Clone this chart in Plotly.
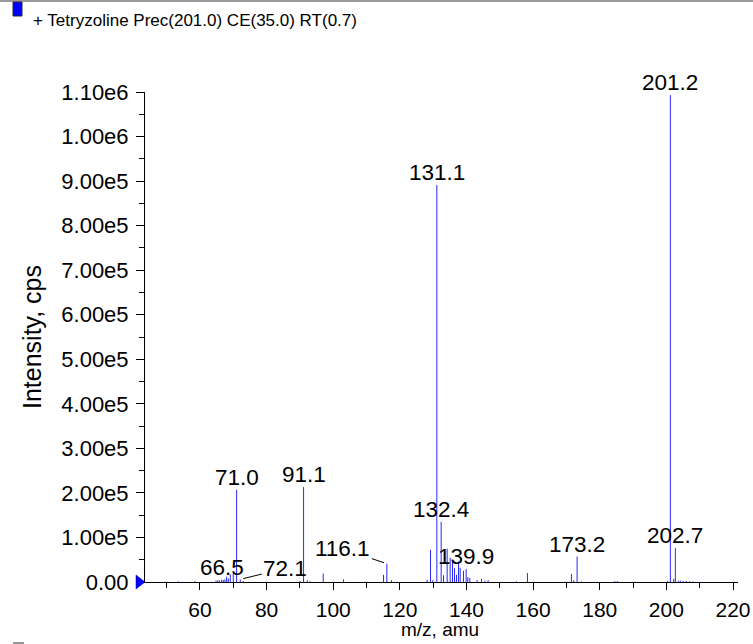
import plotly.graph_objects as go

# ---- data ----
mz = [53.5, 58.5, 64.8, 65.3, 65.8, 66.5, 67.0, 67.5, 68.0, 68.5, 69.1, 70.0, 71.0, 72.1, 73.0,
      90.0, 91.1, 92.2, 93.0, 97.0, 103.1, 115.1, 116.1, 117.5,
      128.2, 129.2, 129.9, 131.1, 132.4, 133.1, 134.2, 135.1, 135.8, 136.4, 137.0, 137.6, 138.1,
      139.1, 139.9, 140.4, 141.0, 143.2, 144.5, 145.5, 146.5, 155.0, 158.3,
      171.5, 172.2, 173.2, 174.5, 184.5, 185.3,
      200.4, 201.2, 202.2, 202.7, 203.6, 204.2, 205.0, 206.0, 207.0, 208.0]
intensity = [1500, 1500, 3000, 3500, 4000, 5000, 4500, 6000, 12000, 8000, 17000, 20000, 207000, 6000, 2000,
             2500, 213000, 4000, 1500, 19000, 6000, 16000, 41000, 4000,
             5000, 72000, 4000, 891000, 135000, 15000, 75000, 55000, 45000, 31000, 16000, 46000, 32000,
             25000, 29000, 11000, 9000, 4000, 7000, 3000, 4000, 1500, 20000,
             18000, 4000, 57000, 1500, 2000, 2000,
             2500, 1093000, 7000, 76000, 3000, 3000, 2500, 2500, 2000, 1500]

label_mz = [201.2, 131.1, 71.0, 91.1, 132.4, 139.9, 173.2, 202.7, 66.5]
label_txt = ["201.2", "131.1", "71.0", "91.1", "132.4", "139.9", "173.2", "202.7", "66.5"]
leader_mz = [116.1, 72.1]
leader_txt = ["116.1", "72.1"]
leader_off = [(-44, -15), (45, -11)]

y_ticks = [0, 1e5, 2e5, 3e5, 4e5, 5e5, 6e5, 7e5, 8e5, 9e5, 1e6, 1.1e6]
y_ticktext = ["0.00", "1.00e5", "2.00e5", "3.00e5", "4.00e5", "5.00e5", "6.00e5",
              "7.00e5", "8.00e5", "9.00e5", "1.00e6", "1.10e6"]
x_ticks = [60, 80, 100, 120, 140, 160, 180, 200, 220]

title_text = "+ Tetryzoline Prec(201.0) CE(35.0) RT(0.7)"
x_title = "m/z, amu"
y_title = "Intensity, cps"

FONT = "Liberation Sans, Arial, Helvetica, sans-serif"
FS = 22

# ---- stick spectrum ----
xs, ys = [], []
for m, v in zip(mz, intensity):
    xs += [m, m, None]
    ys += [0, v, None]

fig = go.Figure()
fig.add_trace(go.Scatter(x=xs, y=ys, mode="lines",
                         line=dict(color="rgb(40,40,255)", width=1),
                         hoverinfo="skip", showlegend=False))

lookup = dict(zip(mz, intensity))
annotations = []
for m, t in zip(label_mz, label_txt):
    annotations.append(dict(x=m, y=lookup[m], text=t, showarrow=False, xref="x", yref="y",
                            yanchor="bottom", xanchor="center", yshift=-2,
                            font=dict(family=FONT, size=22.5, color="black")))
for m, t, (ax, ay) in zip(leader_mz, leader_txt, leader_off):
    annotations.append(dict(x=m, y=lookup[m], text=t, showarrow=True, arrowhead=0,
                            arrowwidth=1, arrowcolor="black", standoff=3,
                            ax=ax, ay=ay, xref="x", yref="y",
                            font=dict(family=FONT, size=22.5, color="black")))

# plot area geometry (pixels)
L, R, T, B = 145, 738, 92, 582
W, H = R - L, B - T
def px(x):
    return (x - L) / W
def py(y):
    return (B - y) / H

annotations.append(dict(x=px(31), y=py(20), xref="paper", yref="paper", text=title_text,
                        showarrow=False, xanchor="left", yanchor="middle",
                        font=dict(family=FONT, size=17, color="black")))
annotations.append(dict(x=px(440), y=py(629), xref="paper", yref="paper", text=x_title,
                        showarrow=False, xanchor="center", yanchor="middle",
                        font=dict(family=FONT, size=19, color="black")))

shapes = [
    dict(type="line", xref="paper", yref="paper", x0=px(0), x1=px(753), y0=py(1), y1=py(1),
         line=dict(color="rgb(120,120,120)", width=1.5)),
    dict(type="rect", xref="paper", yref="paper", x0=px(13), x1=px(22), y0=py(16), y1=py(2),
         fillcolor="rgb(0,0,255)", line=dict(color="rgb(40,40,40)", width=1)),
    dict(type="line", xref="paper", yref="paper", x0=px(13), x1=px(24), y0=py(643), y1=py(643),
         line=dict(color="rgb(150,150,150)", width=2)),
    dict(type="path", xref="paper", yref="paper", xsizemode="pixel", ysizemode="pixel",
         xanchor=0, yanchor=0, path="M -9,-7 L 0,0 L -9,7 Z",
         fillcolor="rgb(0,0,255)", line=dict(color="rgb(0,0,140)", width=0.5)),
]

fig.update_layout(
    width=753, height=644,
    margin=dict(l=L, r=753 - R, t=T, b=644 - B, autoexpand=False),
    paper_bgcolor="white", plot_bgcolor="white",
    font=dict(family=FONT, size=FS, color="black"),
    showlegend=False,
    annotations=annotations,
    shapes=shapes,
    xaxis=dict(range=[43.5, 221.5], tickvals=x_ticks, ticks="outside", ticklen=7,
               tickcolor="black", showline=True, linecolor="black", linewidth=1,
               showgrid=False, zeroline=False, mirror=False, ticklabelstandoff=2,
               automargin=False,
               minor=dict(tickvals=[50, 70, 90, 110, 130, 150, 170, 190, 210],
                          ticks="outside", ticklen=5, tickcolor="black"),
               tickfont=dict(size=21)),
    yaxis=dict(range=[0, 1.1e6], tickvals=y_ticks, ticktext=y_ticktext, ticks="outside",
               ticklen=8, tickcolor="black", showline=True, linecolor="black", linewidth=1,
               showgrid=False, zeroline=False, ticklabelstandoff=3, automargin=False,
               minor=dict(tickvals=[5e4 + 1e5 * i for i in range(11)], ticks="outside",
                          ticklen=5, tickcolor="black"),
               title=dict(text=y_title, standoff=12, font=dict(size=25)),
               tickfont=dict(size=FS)),
)

fig.write_html("out.html", config={"displayModeBar": False},
               post_script="document.body.style.margin='0';document.body.style.overflow='hidden';")
